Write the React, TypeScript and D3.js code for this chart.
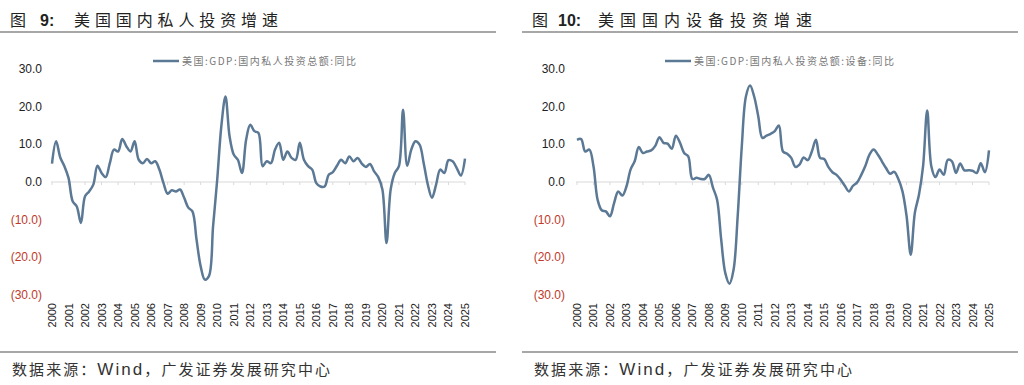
import React, { useEffect, useRef } from 'react';
import * as d3 from 'd3';

// quarterly YoY, 2000Q1 .. 2025Q1
const years = ['2000', '2001', '2002', '2003', '2004', '2005', '2006', '2007', '2008', '2009', '2010', '2011', '2012',
  '2013', '2014', '2015', '2016', '2017', '2018', '2019', '2020', '2021', '2022', '2023', '2024', '2025'];

const privateInvest = [
  4.9, 10.8, 6.5, 4.2, 1.1, -5.1, -6.5, -10.9, -3.8, -2.5,
  -0.7, 4.3, 2.4, 1.3, 5.0, 8.6, 8.1, 11.4, 9.5, 8.1,
  10.8, 5.9, 5.0, 6.1, 5.0, 5.5, 3.3, -0.3, -3.1, -2.2,
  -2.5, -2.0, -4.2, -6.8, -7.8, -15.3, -22.4, -25.9, -25.0, -11.8,
  0.6, 14.8, 22.7, 12.1, 7.3, 5.9, 2.4, 11.2, 15.2, 13.5,
  13.0, 4.2, 5.5, 5.0, 8.6, 10.4, 5.9, 8.1, 6.4, 5.9,
  10.4, 5.9, 4.2, 3.3, -0.3, -1.2, -1.2, 1.9, 2.6, 4.3,
  5.9, 5.0, 6.8, 5.5, 6.4, 4.9, 4.0, 4.8, 2.8, 1.3,
  -2.0, -16.2, -2.0, 2.4, 4.2, 19.2, 4.3, 8.6, 10.8, 9.9,
  5.0, -0.7, -4.2, -0.7, 3.3, 2.4, 5.8, 5.5, 3.7, 1.7, 6.2,
];

const equipInvest = [
  11.2, 11.4, 8.1, 8.6, 4.2, -4.7, -7.5, -7.8, -9.1, -5.6,
  -2.5, -3.6, -1.2, 3.3, 5.5, 9.3, 7.7, 8.1, 8.4, 9.6,
  11.9, 10.4, 10.2, 8.8, 12.3, 10.4, 7.7, 6.8, 0.8, 1.1,
  0.8, 0.8, 1.9, -1.5, -4.7, -15.3, -24.2, -27.0, -23.3, -9.1,
  9.5, 22.7, 25.6, 22.7, 17.4, 11.7, 12.3, 12.8, 13.5, 15.0,
  8.1, 7.5, 6.4, 4.0, 4.6, 6.5, 5.8, 8.1, 11.2, 6.4,
  6.1, 4.0, 2.6, 1.9, 0.6, -1.0, -2.5, -1.0, -0.1, 1.9,
  4.3, 7.3, 8.6, 7.3, 5.5, 3.7, 2.2, 2.7, 0.8, -2.5,
  -9.1, -19.3, -8.2, -3.4, 4.2, 19.0, 4.2, 1.3, 3.3, 1.9,
  5.9, 5.5, 2.4, 4.9, 3.1, 3.1, 3.0, 2.4, 5.0, 2.6, 8.4,
];

const yTicks = [30, 20, 10, 0, -10, -20, -30];

const panels = [
  {
    num: '9', title: '美国国内私人投资增速', legend: '美国:GDP:国内私人投资总额:同比', values: privateInvest,
    left: 0, x0: 52, x1: 465, labelX: 42, legendX: 153, legendW: 174, titleNumX: 40, titleX: 74, titleW: 204,
  },
  {
    num: '10', title: '美国国内设备投资增速', legend: '美国:GDP:国内私人投资总额:设备:同比', values: equipInvest,
    left: 522, x0: 577, x1: 989, labelX: 565, legendX: 665, legendW: 200, titleNumX: 558, titleX: 598, titleW: 214,
  },
];

const LINE = '#5b7895';
const CJK = '"Noto Sans CJK SC", sans-serif';
const LATIN = '"Liberation Sans", Arial, sans-serif';

export default function App() {
  const svgRef = useRef<SVGSVGElement>(null);

  useEffect(() => {
    if (!svgRef.current) return;
    const svg = d3.select(svgRef.current);
    svg.selectAll('*').remove();

    const y = d3.scaleLinear().domain([-30, 30]).range([295, 69]);

    panels.forEach(p => {
      const g = svg.append('g');
      const n = p.values.length;
      const x = d3.scaleLinear().domain([0, n - 1]).range([p.x0, p.x1]);
      const L = p.left;

      // title
      g.append('text').attr('x', L + 10).attr('y', 26)
        .style('font-family', CJK).style('font-size', '16px').style('fill', '#222').text('图');
      g.append('text').attr('x', p.titleNumX).attr('y', 26)
        .style('font-family', LATIN).style('font-size', '16px').style('font-weight', 'bold').style('fill', '#222')
        .text(p.num + ':');
      g.append('text').attr('x', p.titleX).attr('y', 26)
        .attr('textLength', p.titleW).attr('lengthAdjust', 'spacing')
        .style('font-family', CJK).style('font-size', '16px').style('fill', '#222').text(p.title);
      g.append('line').attr('x1', L).attr('x2', L + 496).attr('y1', 32).attr('y2', 32)
        .attr('stroke', '#8a8a8a').attr('stroke-width', 1.5);

      // footer
      g.append('line').attr('x1', L).attr('x2', L + 496).attr('y1', 352).attr('y2', 352)
        .attr('stroke', '#8a8a8a').attr('stroke-width', 1.5);
      const src = g.append('text').attr('x', L + 12).attr('y', 375)
        .attr('textLength', 318).attr('lengthAdjust', 'spacing')
        .style('font-size', '15px').style('fill', '#333');
      src.append('tspan').style('font-family', CJK).text('数据来源：');
      src.append('tspan').style('font-family', LATIN).style('font-size', '17px').text('Wind');
      src.append('tspan').style('font-family', CJK).text('，广发证券发展研究中心');

      // legend
      g.append('line').attr('x1', p.legendX).attr('x2', p.legendX + 26).attr('y1', 61).attr('y2', 61)
        .attr('stroke', LINE).attr('stroke-width', 2.5);
      g.append('text').attr('x', p.legendX + 29).attr('y', 65)
        .attr('textLength', p.legendW).attr('lengthAdjust', 'spacing')
        .style('font-family', CJK).style('font-size', '10px').style('fill', '#777').text(p.legend);

      // y labels
      g.selectAll('.yl').data(yTicks).join('text')
        .attr('x', p.labelX).attr('y', d => y(d) + 4)
        .attr('text-anchor', 'end')
        .style('font-family', LATIN).style('font-size', '12px')
        .style('fill', d => (d < 0 ? '#c0392b' : '#222'))
        .text(d => (d < 0 ? `(${Math.abs(d).toFixed(1)})` : d.toFixed(1)));

      // zero axis with year ticks
      g.append('line').attr('x1', p.x0 - 1).attr('x2', p.x1).attr('y1', y(0)).attr('y2', y(0))
        .attr('stroke', '#d9d9d9').attr('stroke-width', 1);
      g.selectAll('.tk').data(years).join('line')
        .attr('x1', (d, i) => x(i * 4)).attr('x2', (d, i) => x(i * 4))
        .attr('y1', y(0)).attr('y2', y(0) + 3)
        .attr('stroke', '#d9d9d9');

      // year labels
      g.selectAll('.xl').data(years).join('text')
        .attr('transform', (d, i) => `translate(${x(i * 4) + 4},303) rotate(-90)`)
        .attr('text-anchor', 'end')
        .style('font-family', LATIN).style('font-size', '11px').style('fill', '#222')
        .text(d => d);

      // series
      const line = d3.line<number>()
        .x((d, i) => x(i))
        .y(d => y(d))
        .curve(d3.curveCatmullRom.alpha(0.5));
      g.append('path').datum(p.values)
        .attr('d', line)
        .attr('fill', 'none')
        .attr('stroke', LINE)
        .attr('stroke-width', 2.5)
        .attr('stroke-linejoin', 'round');
    });
  }, []);

  return (
    <svg ref={svgRef} width={1024} height={385}
      style={{ position: 'absolute', left: 0, top: 0, background: '#fff' }} />
  );
}
